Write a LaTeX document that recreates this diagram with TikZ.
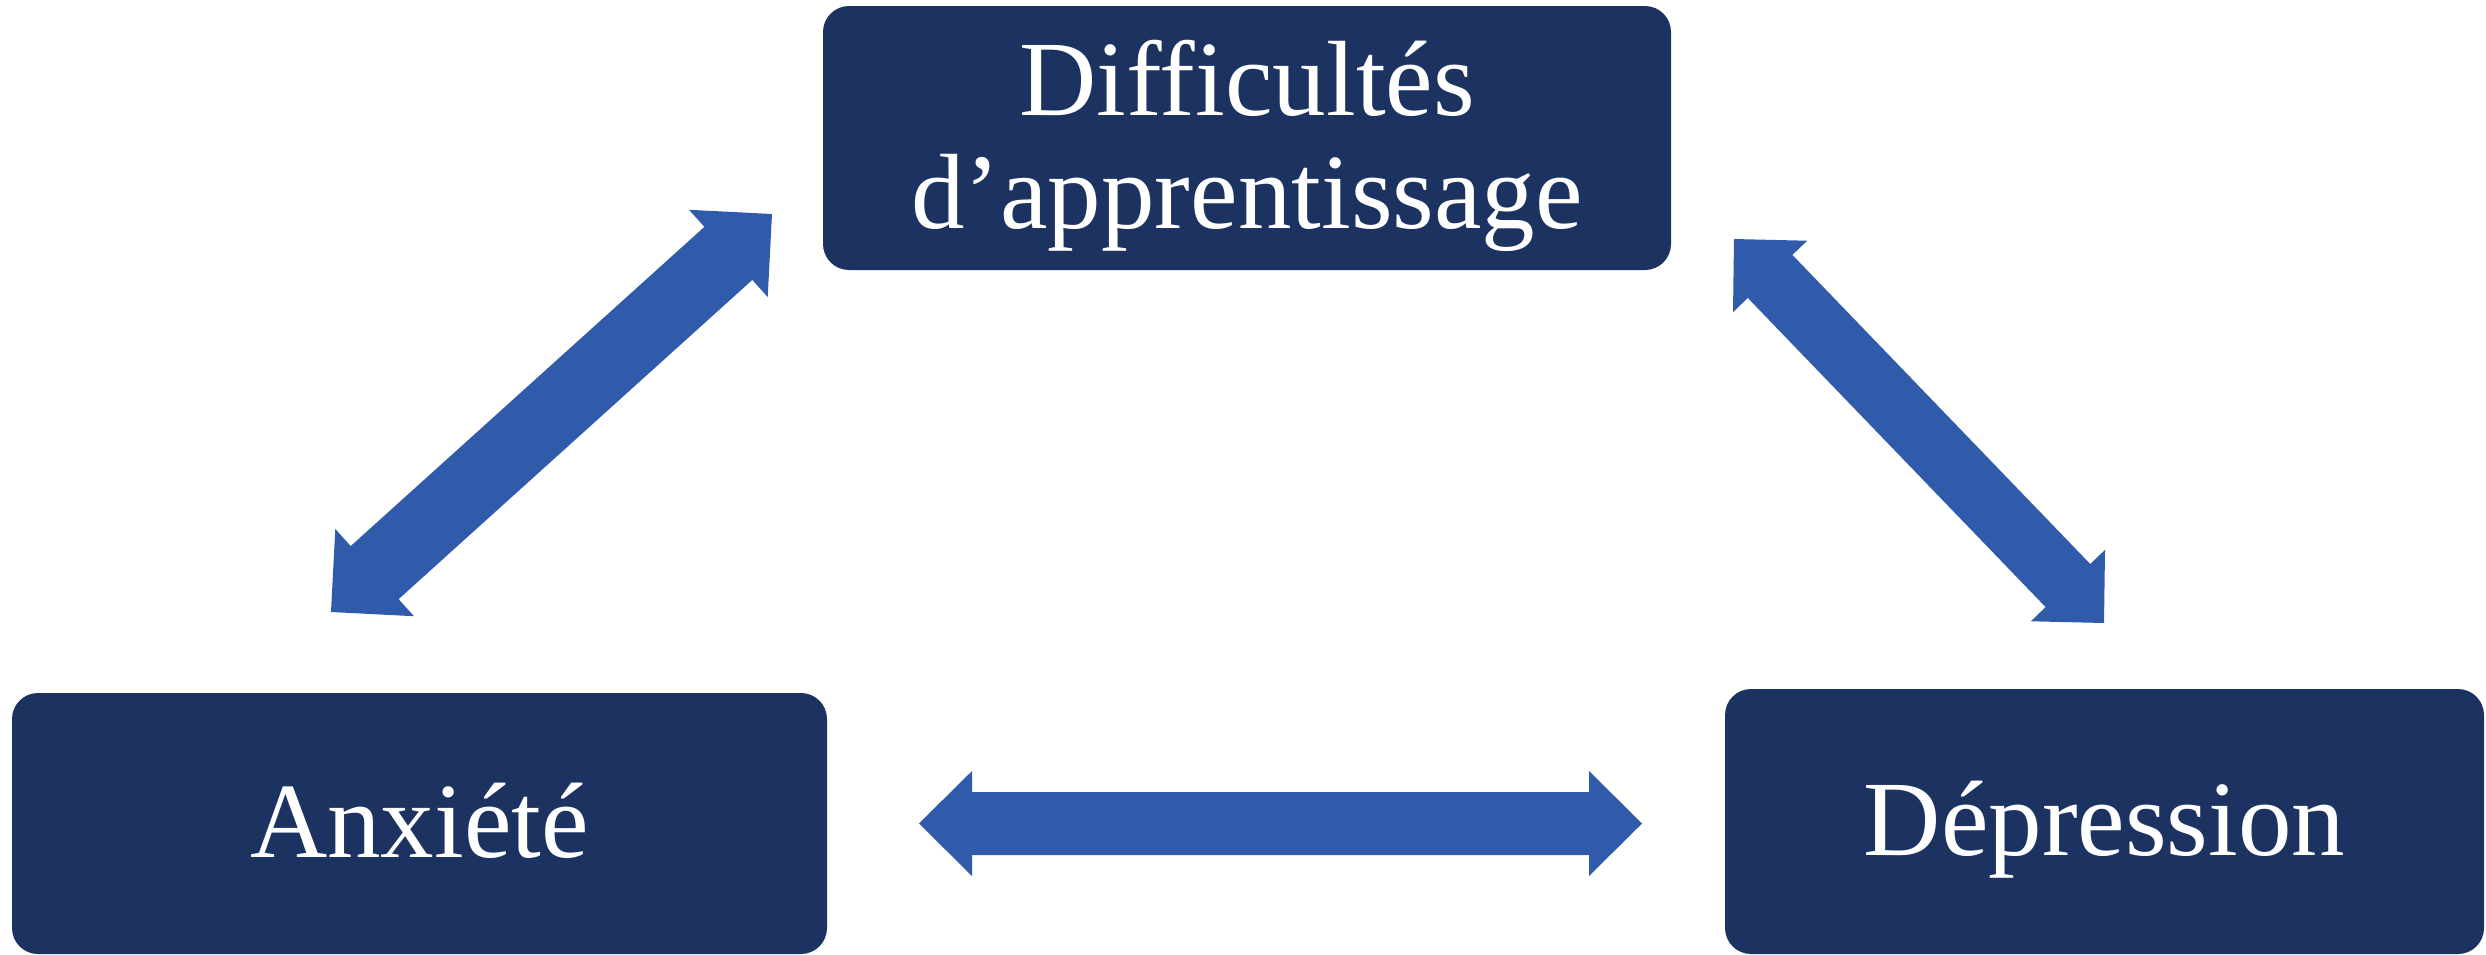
\documentclass[tikz,border=0pt]{standalone}
\usepackage{fontspec}
\setmainfont{Liberation Serif}[Ligatures={TeX,NoCommon}]
\usetikzlibrary{calc}
\definecolor{boxnavy}{HTML}{1C3261}
\definecolor{arrowblue}{HTML}{2F5BAA}
% #1,#2 tips, #3 half shaft, #4 half head, #5 head length
\newcommand\dblblockarrow[5]{%
  \path ($(#1)!#5!(#2)$) coordinate (hA) ($(#2)!#5!(#1)$) coordinate (hB);
  \fill[arrowblue] (#1) -- ($(hA)!#4!90:(#2)$) -- ($(hA)!#3!90:(#2)$)
    -- ($(hB)!#3!-90:(#1)$) -- ($(hB)!#4!-90:(#1)$) -- (#2)
    -- ($(hB)!#4!90:(#1)$) -- ($(hB)!#3!90:(#1)$)
    -- ($(hA)!#3!-90:(#2)$) -- ($(hA)!#4!-90:(#2)$) -- cycle;}
\begin{document}
\begin{tikzpicture}[x=1pt,y=-1pt,
  box/.style={fill=boxnavy, rounded corners=26pt, text=white,
    font=\fontsize{107}{113}\selectfont, align=center, inner sep=0pt}]
\useasboundingbox (0,0) rectangle (2486,954);
\node[box, minimum width=848pt, minimum height=264pt, text height=186pt, text depth=6pt]
  (diff) at (1247,138) {Difficultés\\d’apprentissage};
\node[box, minimum width=815pt, minimum height=261pt, text height=72pt, text depth=4pt]
  (anx) at (419.5,823.5) {Anxiété};
\node[box, minimum width=759pt, minimum height=265pt, text height=72pt, text depth=4pt]
  (dep) at (2104.5,821.5) {Dépression};
\coordinate (la1) at (331,612);
\coordinate (la2) at (772,214);
\coordinate (ra1) at (1734,239);
\coordinate (ra2) at (2104,623);
\coordinate (ha1) at (919,823.5);
\coordinate (ha2) at (1642,823.5);
\dblblockarrow{la1}{la2}{35.75pt}{58.75pt}{58.8pt}
\dblblockarrow{ra1}{ra2}{31pt}{51.5pt}{52pt}
\dblblockarrow{ha1}{ha2}{31.5pt}{52.5pt}{53pt}
\end{tikzpicture}
\end{document}
